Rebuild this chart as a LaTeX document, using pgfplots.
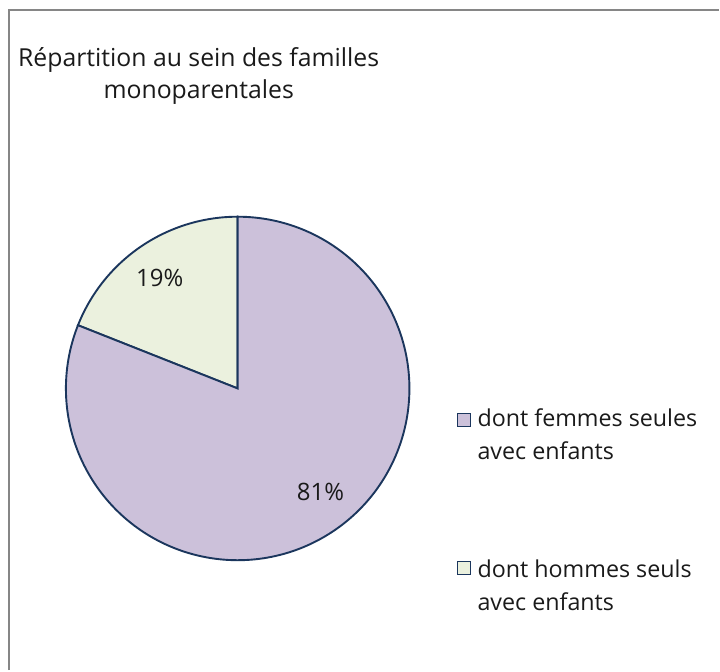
\documentclass[border=0pt]{standalone}
\usepackage{pgfplots}
\pgfplotsset{compat=1.18}
\usepackage{pgfplotstable}
\usepackage{fontspec}
\setmainfont{Open Sans}
\definecolor{femmes}{HTML}{CCC1DA}
\definecolor{hommes}{HTML}{EBF1DE}
\definecolor{edge}{HTML}{1B365D}
\definecolor{framec}{HTML}{868686}
\definecolor{txt}{HTML}{1A1A1A}
\tikzset{lab/.style={font=\fontsize{24}{30}\selectfont, text=txt, inner sep=0pt},
  tit/.style={font=\fontsize{24.8}{30}\selectfont, text=txt, inner sep=0pt},
  leg/.style={font=\fontsize{23.3}{30}\selectfont, text=txt, inner sep=0pt}}

\pgfplotstableread{
idx value
0 81
1 19
}\piedata

\begin{document}
\begin{tikzpicture}
\pgfplotstablegetelem{0}{value}\of\piedata \let\vf\pgfplotsretval
\pgfplotstablegetelem{1}{value}\of\piedata \let\vh\pgfplotsretval
\pgfmathsetmacro{\ah}{90+3.6*\vh}
\pgfmathsetmacro{\af}{\ah+3.6*\vf}
\begin{axis}[scale only axis, width=720pt, height=671pt,
  xmin=0, xmax=720, ymin=0, ymax=671, hide axis, clip=false]
\path (axis cs:0,0) rectangle (axis cs:720,671);
\draw[framec, line width=2pt] (axis cs:9,0) -- (axis cs:9,661) -- (axis cs:720,661);
\addplot[fill=hommes, draw=edge, line width=1.9pt, domain=90:\ah, samples=60]
  ({238+172*cos(x)},{282+172*sin(x)}) -- (axis cs:238,282) -- cycle;
\addplot[fill=femmes, draw=edge, line width=1.9pt, domain=\ah:\af, samples=200]
  ({238+172*cos(x)},{282+172*sin(x)}) -- (axis cs:238,282) -- cycle;
\node[lab] at (axis cs:160,393) {19\%};
\node[lab] at (axis cs:321,178) {81\%};
\node[tit, anchor=base west] at (axis cs:18,604) {Répartition au sein des familles};
\node[tit, anchor=base] at (axis cs:199,572) {monoparentales};
\draw[edge, fill=femmes, line width=1.4pt] (axis cs:458,244) rectangle (axis cs:471,257);
\node[leg, anchor=base west] at (axis cs:478,244) {dont femmes seules};
\node[leg, anchor=base west] at (axis cs:478,211) {avec enfants};
\draw[edge, fill=hommes, line width=1.4pt] (axis cs:458,96) rectangle (axis cs:471,109);
\node[leg, anchor=base west] at (axis cs:478,93) {dont hommes seuls};
\node[leg, anchor=base west] at (axis cs:478,60) {avec enfants};
\end{axis}
\end{tikzpicture}
\end{document}
